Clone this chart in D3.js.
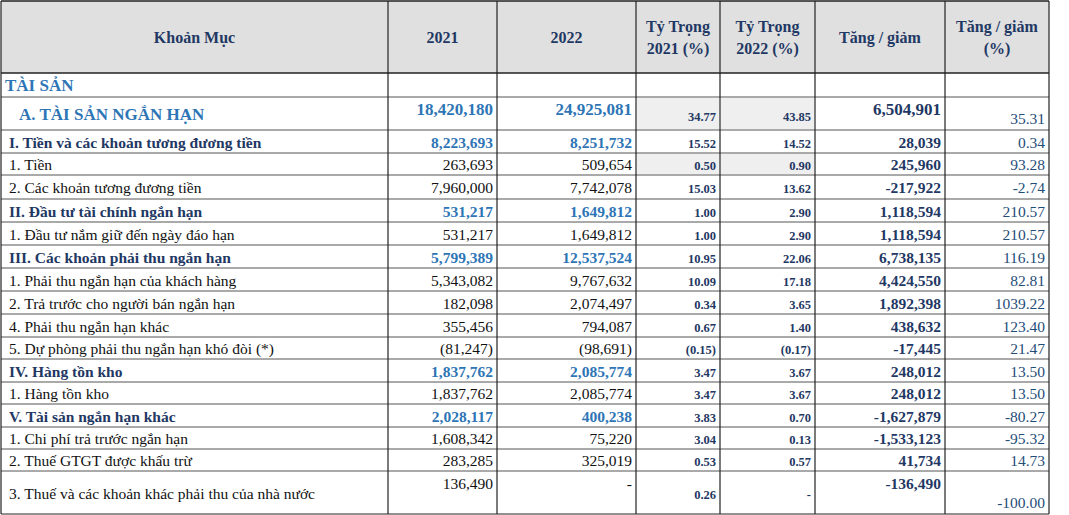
<!DOCTYPE html>
<html><head><meta charset="utf-8">
<script src="https://cdn.jsdelivr.net/npm/d3@7"></script>
<style>body{margin:0;background:#fff}</style>
</head><body><svg id="t" width="1069" height="515"></svg>
<script>
// columns
var headers = ["Khoản Mục", "2021", "2022", "Tỷ Trọng|2021 (%)", "Tỷ Trọng|2022 (%)", "Tăng / giảm", "Tăng / giảm|(%)"];
var colEdges = [1, 388, 497, 636, 720, 815, 945, 1049];
// rows
var labels = ["TÀI SẢN", "A. TÀI SẢN NGẮN HẠN", "I. Tiền và các khoản tương đương tiền", "1. Tiền", "2. Các khoản tương đương tiền",
  "II. Đầu tư tài chính ngắn hạn", "1. Đầu tư nắm giữ đến ngày đáo hạn", "III. Các khoản phải thu ngắn hạn",
  "1. Phải thu ngắn hạn của khách hàng", "2. Trả trước cho người bán ngắn hạn", "4. Phải thu ngắn hạn khác",
  "5. Dự phòng phải thu ngắn hạn khó đòi (*)", "IV. Hàng tồn kho", "1. Hàng tồn kho", "V. Tài sản ngắn hạn khác",
  "1. Chi phí trả trước ngắn hạn", "2. Thuế GTGT được khấu trừ", "3. Thuế và các khoản khác phải thu của nhà nước"];
var level = [0, 1, 2, 3, 3, 2, 3, 2, 3, 3, 3, 3, 2, 3, 2, 3, 3, 3];
var v2021 = ["", "18,420,180", "8,223,693", "263,693", "7,960,000", "531,217", "531,217", "5,799,389", "5,343,082", "182,098", "355,456", "(81,247)", "1,837,762", "1,837,762", "2,028,117", "1,608,342", "283,285", "136,490"];
var v2022 = ["", "24,925,081", "8,251,732", "509,654", "7,742,078", "1,649,812", "1,649,812", "12,537,524", "9,767,632", "2,074,497", "794,087", "(98,691)", "2,085,774", "2,085,774", "400,238", "75,220", "325,019", "-"];
var w2021 = ["", "34.77", "15.52", "0.50", "15.03", "1.00", "1.00", "10.95", "10.09", "0.34", "0.67", "(0.15)", "3.47", "3.47", "3.83", "3.04", "0.53", "0.26"];
var w2022 = ["", "43.85", "14.52", "0.90", "13.62", "2.90", "2.90", "22.06", "17.18", "3.65", "1.40", "(0.17)", "3.67", "3.67", "0.70", "0.13", "0.57", "-"];
var change = ["", "6,504,901", "28,039", "245,960", "-217,922", "1,118,594", "1,118,594", "6,738,135", "4,424,550", "1,892,398", "438,632", "-17,445", "248,012", "248,012", "-1,627,879", "-1,533,123", "41,734", "-136,490"];
var changePct = ["", "35.31", "0.34", "93.28", "-2.74", "210.57", "210.57", "116.19", "82.81", "1039.22", "123.40", "21.47", "13.50", "13.50", "-80.27", "-95.32", "14.73", "-100.00"];
var rowEdges = [1, 73, 97, 130, 153, 175, 199, 222, 245, 268, 291, 314, 337, 359, 382, 404, 427, 449, 471, 514];

var svg = d3.select("#t");
var x = d3.scaleLinear().domain([0, colEdges.length - 1]).range([0, colEdges.length - 1]);
var cx = i => colEdges[x(i)];
var ry = i => rowEdges[i];
var font = "'Liberation Serif','Times New Roman',serif";
var navy = "#1f3864", blue = "#2e75b6", pblue = "#1f4e79";

// header
svg.append("rect").attr("x", cx(0)).attr("y", ry(0)).attr("width", cx(7) - cx(0)).attr("height", ry(1) - ry(0)).attr("fill", "#e0e0e0");
headers.forEach(function (h, i) {
  var parts = h.split("|");
  var t = svg.append("text").attr("x", (cx(i) + cx(i + 1)) / 2).attr("text-anchor", "middle")
    .attr("font-family", font).attr("font-weight", "bold").attr("font-size", 16).attr("fill", navy);
  parts.forEach(function (p, k) {
    t.append("tspan").attr("x", (cx(i) + cx(i + 1)) / 2)
      .attr("y", (ry(0) + ry(1)) / 2 + 6 + (k - (parts.length - 1) / 2) * 22).text(p);
  });
});

// light shading
[1, 3].forEach(function (r) {
  [3, 4].forEach(function (c) {
    svg.append("rect").attr("x", cx(c) + 1).attr("y", ry(r + 1) + 1).attr("width", cx(c + 1) - cx(c) - 2)
      .attr("height", ry(r + 2) - ry(r + 1) - 2).attr("fill", "#efefef");
  });
});

var rows = labels.map((l, i) => ({ i: i, l: l, lv: level[i], vals: [v2021[i], v2022[i], w2021[i], w2022[i], change[i], changePct[i]] }));
var g = svg.selectAll("g.row").data(rows).enter().append("g");
g.each(function (d) {
  var sel = d3.select(this), top = ry(d.i + 1), bot = ry(d.i + 2), mid = (top + bot) / 2;
  var bold = d.lv <= 2;
  sel.append("text").attr("x", cx(0) + (d.lv === 0 ? 4 : d.lv === 1 ? 18 : 8)).attr("y", mid + 6)
    .attr("font-family", font).attr("font-size", d.lv <= 1 ? 17 : 15.5).attr("font-weight", bold ? "bold" : "normal")
    .attr("fill", d.lv <= 1 ? blue : d.lv === 2 ? navy : "#111").text(d.l);
  d.vals.forEach(function (v, k) {
    if (!v) return;
    var c = k + 1, ya = mid + 6;
    var tall = bot - top > 30;
    if (tall && (k === 0 || k === 1 || k === 4)) ya = top + 18;
    if (tall && k === 5) ya = bot - 6;
    if (tall && (k === 2 || k === 3) && d.i === 1) ya = bot - 9;
    var col = k <= 1 ? (d.lv <= 2 ? blue : "#111") : k <= 4 ? navy : pblue;
    sel.append("text").attr("x", cx(c + 1) - 4).attr("y", ya).attr("text-anchor", "end")
      .attr("font-family", font).attr("fill", col)
      .attr("font-size", (k === 2 || k === 3) ? 12.5 : (d.lv <= 1 && k <= 1) || (k === 4 && d.lv <= 1) ? 17 : 15.5)
      .attr("font-weight", (k <= 1 && d.lv <= 2) || k === 2 || k === 3 || k === 4 ? "bold" : "normal")
      .text(v);
  });
});

// grid
svg.selectAll("line.h").data(rowEdges).enter().append("line")
  .attr("x1", cx(0)).attr("x2", cx(7)).attr("y1", d => d).attr("y2", d => d)
  .attr("stroke", (d, i) => i === 0 || i === 1 || i === rowEdges.length - 1 ? "#222" : "#555").attr("stroke-width", (d, i) => i <= 1 ? 1.5 : 1);
svg.selectAll("line.v").data(colEdges).enter().append("line")
  .attr("x1", d => d).attr("x2", d => d).attr("y1", ry(0)).attr("y2", ry(rowEdges.length - 1))
  .attr("stroke", "#222").attr("stroke-width", 1.2);
</script></body></html>
